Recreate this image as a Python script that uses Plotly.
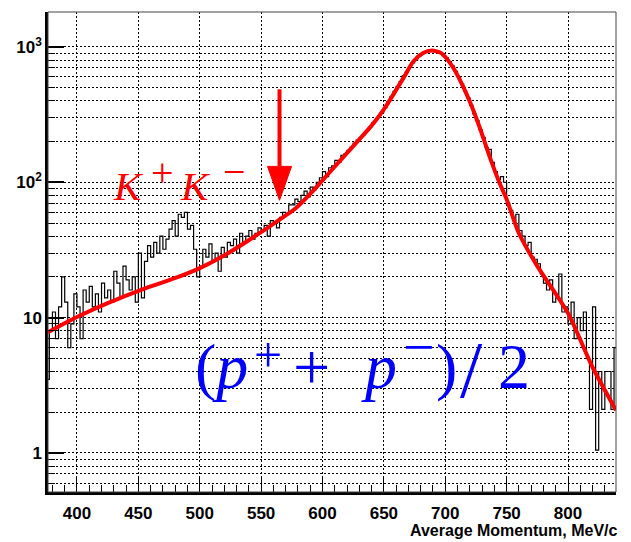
import plotly.graph_objects as go
import math

# ---------------- data ----------------
BIN_START = 375.0
BIN_WIDTH = 2.5
hist_counts = [
    3.5, 8, 11, 7, 12, 20, 13, 6, 9, 15,            # 375-400
    12, 7, 16, 13, 17, 12, 15, 11, 18, 14,          # 400-425
    16, 13, 22, 18, 14, 24, 19, 16, 20, 13,         # 425-450
    30, 14, 26, 34, 28, 36, 30, 40, 32, 38,         # 450-475
    45, 52, 40, 58, 55, 60, 45, 48, 32, 20,         # 475-500
    24, 32, 28, 35, 26, 30, 22, 33, 28, 36,         # 500-525
    34, 38, 30, 42, 36, 40, 44, 38, 42, 46,         # 525-550
    44, 48, 40, 52, 50, 46, 55, 60, 58, 68,         # 550-575
    68, 75, 72, 80, 86, 78, 92, 88, 100, 108,       # 575-600
    120, 110, 128, 132, 145, 140, 158, 162, 172, 182,   # 600-625
    195, 205, 215, 225, 240, 255, 275, 290, 310, 330,   # 625-650
    355, 395, 430, 470, 510, 555, 610, 650, 705, 760,   # 650-675
    800, 850, 890, 920, 935, 945, 940, 925, 900, 860,   # 675-700
    830, 780, 720, 660, 600, 530, 470, 420, 370, 320,   # 700-725
    285, 245, 215, 180, 175, 140, 120, 105, 110, 100,   # 725-750
    70, 62, 52, 58, 44, 40, 34, 36, 28, 27,             # 750-775
    25, 21, 18, 16, 19, 13, 14, 21, 11, 12,             # 775-800
    9, 13, 7, 10, 8, 11, 5, 2.1, 12, 1.05,              # 800-825
    4, 2.1, 4, 4, 2.1, 6,                               # 825-840
]

fit_x = [376.4, 400, 425, 455, 482, 500, 523, 550, 565, 578, 590, 605, 628, 640, 650,
         666, 674, 682, 689, 697, 705, 713, 720, 728, 736, 744, 750, 760, 775,
         800, 820, 839.1]
fit_y = [7.8, 10.1, 12.8, 16.4, 19.9, 23.2, 29.9, 42.8, 53, 64, 82, 116, 198, 262, 345,
         590, 780, 900, 940, 895, 735, 545, 395, 255, 156, 100, 75, 42, 24,
         10.8, 4.3, 2.07]

x_ticks = [400, 450, 500, 550, 600, 650, 700, 750, 800]
y_major = [1, 10, 100, 1000]
y_major_text = ["1", "10", "10<sup>2</sup>", "10<sup>3</sup>"]
y_minor = [0.6, 0.7, 0.8, 0.9,
           2, 3, 4, 5, 6, 7, 8, 9,
           20, 30, 40, 50, 60, 70, 80, 90,
           200, 300, 400, 500, 600, 700, 800, 900]

# arrow marking the K+K- region
ARROW_X = 565
ARROW_TAIL = 486
ARROW_BASE = 131
ARROW_TIP = 73.6
ARROW_HALF = 9.8

X_RANGE = [376.4, 839.1]
Y_RANGE = [math.log10(0.515), math.log10(1810)]

# ---------------- figure ----------------
edges = [BIN_START + i * BIN_WIDTH for i in range(len(hist_counts) + 1)]
hist_y = hist_counts + [hist_counts[-1]]

fig = go.Figure()
fig.add_trace(go.Scatter(x=edges, y=hist_y, mode="lines", line=dict(color="black", width=1.2, shape="hv"),
                         hoverinfo="skip", showlegend=False))
fig.add_trace(go.Scatter(x=fit_x, y=fit_y, mode="lines", line=dict(color="#ff0000", width=4, shape="spline", smoothing=0.7),
                         showlegend=False))
# arrow shaft
fig.add_trace(go.Scatter(x=[ARROW_X, ARROW_X], y=[ARROW_TAIL, ARROW_BASE], mode="lines",
                         line=dict(color="#ff0000", width=4), showlegend=False, hoverinfo="skip"))
# arrow head
fig.add_trace(go.Scatter(x=[ARROW_X - ARROW_HALF, ARROW_X + ARROW_HALF, ARROW_X, ARROW_X - ARROW_HALF],
                         y=[ARROW_BASE, ARROW_BASE, ARROW_TIP, ARROW_BASE], mode="lines", fill="toself",
                         fillcolor="#ff0000", line=dict(color="#ff0000", width=1), showlegend=False, hoverinfo="skip"))

tickfont = dict(family="Liberation Sans, Arial, sans-serif", size=17, color="black", weight="bold")
grid_dash = "2px,2px"

fig.update_xaxes(range=X_RANGE, tickvals=x_ticks, ticks="inside", ticklen=16, tickwidth=1.2, tickcolor="black",
                 showline=True, linewidth=2.5, linecolor="black", mirror=False,
                 showgrid=True, gridcolor="black", gridwidth=1, griddash=grid_dash, zeroline=False,
                 tickfont=tickfont, ticklabelstandoff=4,
                 minor=dict(dtick=10, tick0=400, ticks="inside", ticklen=7, tickwidth=1.2, tickcolor="black", showgrid=False))
fig.update_yaxes(type="log", range=Y_RANGE, tickvals=y_major, ticktext=y_major_text,
                 ticks="inside", ticklen=16, tickwidth=1.5, tickcolor="black",
                 showline=True, linewidth=2.5, linecolor="black", mirror=False,
                 showgrid=True, gridcolor="black", gridwidth=1, griddash=grid_dash, zeroline=False,
                 tickfont=tickfont,
                 minor=dict(tickvals=y_minor, ticks="inside", ticklen=7, tickwidth=1.2, tickcolor="black",
                            showgrid=True, gridcolor="black", gridwidth=1, griddash=grid_dash))

fig.add_shape(type="rect", xref="paper", yref="paper", x0=0, x1=1, y0=0, y1=1,
              line=dict(color="#444444", width=1), layer="above")

# ---- text labels (positions given in page pixels of the plot frame) ----
PLOT_L, PLOT_R, PLOT_T, PLOT_B = 48, 616, 12, 492


def px(xp):
    return (xp - PLOT_L) / (PLOT_R - PLOT_L)


def py(yp):
    return (PLOT_B - yp) / (PLOT_B - PLOT_T)


serif = "Liberation Serif, Times New Roman, serif"


def label(text, xp, yp, size, color, anchor="left"):
    fig.add_annotation(xref="paper", yref="paper", x=px(xp), y=py(yp), xanchor=anchor, yanchor="middle",
                       text=text, showarrow=False, borderpad=0,
                       font=dict(family=serif, size=size, color=color))


RED = "#ff0000"
BLUE = "#0000ff"
# K+ K-
label("<i>K</i>", 112, 186, 41, RED)
label("+", 162.5, 172.5, 40, RED, "center")
label("<i>K</i>", 179, 186, 41, RED)
label("\u2212", 234, 171.5, 40, RED, "center")
# (p+ + p-)/2
label("(<i>p</i>", 194, 366, 64, BLUE)
label("+", 267.5, 355, 50, BLUE, "center")
label("+", 311, 367, 66, BLUE, "center")
label("<i>p</i>", 360, 366, 64, BLUE)
label("\u2212", 419, 347, 56, BLUE, "center")
label(")", 446, 366, 64, BLUE, "center")
label("/", 471, 370, 80, BLUE, "center")
label("2", 514, 366, 64, BLUE, "center")

fig.add_annotation(xref="paper", yref="paper", x=px(619), y=py(530), xanchor="right", yanchor="middle",
                   text="Average Momentum, MeV/c", showarrow=False, borderpad=0,
                   font=dict(family="Liberation Sans, Arial, sans-serif", size=16, color="black", weight="bold"))

# the page body has an 8px default margin, so the figure is sized to fit inside the window
fig.update_layout(width=623, height=534, margin=dict(l=40, r=15, t=4, b=50),
                  paper_bgcolor="white", plot_bgcolor="white", showlegend=False)

fig.write_html("out.html")
